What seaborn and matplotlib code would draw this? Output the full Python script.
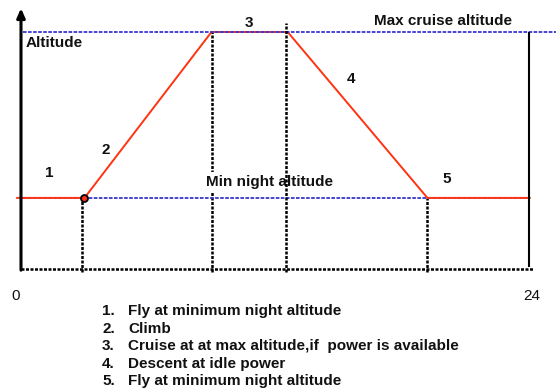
import numpy as np
import matplotlib
matplotlib.use("Agg")
import matplotlib.pyplot as plt
import seaborn as sns

# flight profile over one night (hours, altitude in arbitrary units)
profile_hours = [-0.2, 3.0, 9.0, 12.6, 19.2, 24.05]
profile_alt = [3.0, 3.0, 10.0, 10.0, 3.0, 3.0]
min_night_alt = 3.0
max_cruise_alt = 10.0
guide_hours = [2.9, 9.0, 12.5, 19.2]
guide_tops = [3.0, 10.0, 10.4, 3.0]
phase_labels = ["1", "2", "3", "4", "5"]
phase_x = [1.33, 4.02, 10.78, 15.6, 20.13]
phase_y = [3.87, 4.87, 10.22, 7.86, 3.64]
tick_labels = ["0", "24"]
steps = [
    "Fly at minimum night altitude",
    "Climb",
    "Cruise at at max altitude,if  power is available",
    "Descent at idle power",
    "Fly at minimum night altitude",
]

RED = "#ff3311"
BLUE = "#3636d0"

sns.set_theme(style="white")
plt.rcParams["font.family"] = ["Liberation Sans", "DejaVu Sans"]

fig = plt.figure(figsize=(5.56, 3.91), dpi=100)
ax = fig.add_axes([0, 0, 1, 1])
ax.set_xlim(-0.992, 25.275)
ax.set_ylim(-5.148, 11.35)
ax.axis("off")

dots = (0, (1.2, 0.6))

# reference altitudes
ax.hlines(max_cruise_alt, 0.1, 25.3, color=BLUE, lw=1.3, linestyle=(0, (2, 0.8)), zorder=3)
ax.hlines(min_night_alt, 0.08, 24.05, color=BLUE, lw=1.3, linestyle=(0, (2, 0.8)), zorder=2)

# profile
sns.lineplot(x=profile_hours, y=profile_alt, sort=False, color=RED, lw=1.4,
             ax=ax, zorder=2.5)
ax.plot(profile_hours[1], profile_alt[1], "o", ms=5, mfc=RED, mec="black",
        mew=1.3, zorder=5)

# vertical guides
for i, (h, top) in enumerate(zip(guide_hours, guide_tops)):
    ax.vlines(h, -0.14, top, color="black", lw=1.8, linestyle=dots,
              zorder=4 if i == 2 else 1)

# axes frame
ax.hlines(0, 0, 24.19, color="black", lw=1.8, linestyle=dots, zorder=3)
ax.vlines(24.0, 0.1, max_cruise_alt, color="black", lw=1.5, zorder=3)
ax.annotate("", xy=(0, 11.0), xytext=(0, -0.05),
            arrowprops=dict(arrowstyle="-|>,head_length=0.45,head_width=0.2",
                            lw=2.2, color="black", shrinkA=0, shrinkB=0),
            zorder=4)

bold = dict(fontsize=11, fontweight="bold", color="#111111")
ax.text(0.236, 9.37, "Altitude", ha="left", va="baseline", **bold)
ax.text(16.68, 10.30, "Max cruise altitude", ha="left", va="baseline", **bold)
ax.text(8.74, 3.51, "Min night altitude", ha="left", va="baseline", zorder=3.5,
        bbox=dict(boxstyle="square,pad=0.2", fc="white", ec="none"), **bold)

for lab, x, y in zip(phase_labels, phase_x, phase_y):
    ax.text(x, y, lab, ha="center", va="baseline", **bold)

for lab, x in zip(tick_labels, [-0.26, 24.13]):
    ax.text(x, -1.32, lab, ha="center", va="baseline", fontsize=11, color="#111111")

for i, s in enumerate(steps):
    y = -1.94 - 0.74 * i
    ax.text(3.83, y, f"{i + 1}.", ha="left", va="baseline", **bold)
    ax.text(5.05, y, s, ha="left", va="baseline", **bold)

fig.savefig("out.png", dpi=100)
